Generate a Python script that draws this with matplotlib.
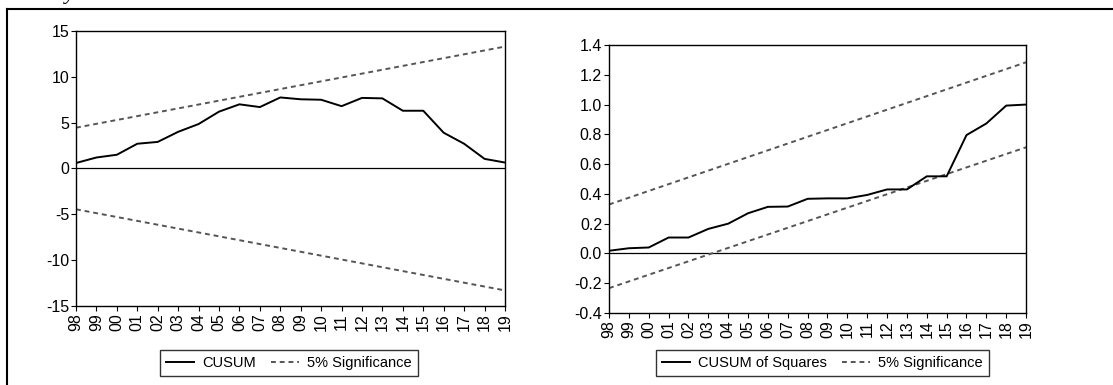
import matplotlib
matplotlib.use('Agg')
import matplotlib.pyplot as plt
from matplotlib.lines import Line2D

plt.rcParams['font.family'] = ['Liberation Sans', 'DejaVu Sans']
plt.rcParams['axes.unicode_minus'] = False

# 年份标签 (1998-2019)
years = ['98', '99', '00', '01', '02', '03', '04', '05', '06', '07', '08',
         '09', '10', '11', '12', '13', '14', '15', '16', '17', '18', '19']

# CUSUM 统计量
cusum = [0.6, 1.2, 1.5, 2.7, 2.9, 4.0, 4.85, 6.2, 7.0, 6.7, 7.75,
         7.55, 7.5, 6.8, 7.7, 7.65, 6.3, 6.3, 3.9, 2.7, 1.05, 0.65]
# CUSUM 5% 显著性边界 (起点, 终点)
cusum_upper = [4.45, 13.3]
cusum_lower = [-4.45, -13.3]

# CUSUM of Squares 统计量
cusumsq = [0.018, 0.035, 0.04, 0.107, 0.107, 0.165, 0.2, 0.27, 0.313, 0.315, 0.367,
           0.37, 0.37, 0.393, 0.43, 0.43, 0.518, 0.518, 0.795, 0.873, 0.993, 1.0]
# CUSUM of Squares 5% 显著性边界 (起点, 终点)
sq_upper = [0.329, 1.284]
sq_lower = [-0.233, 0.713]

fig = plt.figure(figsize=(11.13, 3.85), dpi=100)

x = list(range(len(years)))
ends = [x[0], x[-1]]
dash_color = '#555555'


def style_axes(ax):
    ax.set_xlim(x[0], x[-1])
    ax.set_xticks(x)
    ax.set_xticklabels(years, rotation=90)
    ax.tick_params(axis='both', direction='out', length=3.5, width=0.8, labelsize=11.5, pad=1.5)
    for s in ax.spines.values():
        s.set_linewidth(1.0)
        s.set_color('black')
    ax.axhline(0, color='black', lw=0.9, zorder=1)


# 左图: CUSUM
ax1 = fig.add_axes([0.0683, 0.2052, 0.3854, 0.7143])
ax1.plot(x, cusum, color='black', lw=1.4, label='CUSUM', zorder=3)
ax1.plot(ends, cusum_upper, color=dash_color, lw=1.4, ls=(0, (2.5, 2)), label='5% Significance')
ax1.plot(ends, cusum_lower, color=dash_color, lw=1.4, ls=(0, (2.5, 2)))
ax1.set_ylim(-15, 15)
ax1.set_yticks([-15, -10, -5, 0, 5, 10, 15])
style_axes(ax1)

# 右图: CUSUM of Squares
ax2 = fig.add_axes([0.5472, 0.1870, 0.3747, 0.6961])
ax2.plot(x, cusumsq, color='black', lw=1.4, label='CUSUM of Squares', zorder=3)
ax2.plot(ends, sq_upper, color=dash_color, lw=1.4, ls=(0, (2.5, 2)), label='5% Significance')
ax2.plot(ends, sq_lower, color=dash_color, lw=1.4, ls=(0, (2.5, 2)))
ax2.set_ylim(-0.4, 1.4)
ax2.set_yticks([-0.4, -0.2, 0.0, 0.2, 0.4, 0.6, 0.8, 1.0, 1.2, 1.4])
ax2.set_yticklabels(['-0.4', '-0.2', '0.0', '0.2', '0.4', '0.6', '0.8', '1.0', '1.2', '1.4'])
style_axes(ax2)

# 图例
for ax, cx in [(ax1, 0.2597), (ax2, 0.739)]:
    leg = ax.legend(loc='center', bbox_to_anchor=(cx, 0.058), bbox_transform=fig.transFigure,
                    ncol=2, fontsize=10.5, frameon=True, fancybox=False, handlelength=1.9,
                    columnspacing=1.0, handletextpad=0.6, borderpad=0.4, borderaxespad=0)
    leg.get_frame().set_edgecolor('black')
    leg.get_frame().set_linewidth(1.0)

# 外框
fig.add_artist(Line2D([0.0066, 1.0], [1 - 9 / 385, 1 - 9 / 385], transform=fig.transFigure,
                      color='black', lw=1.5))
fig.add_artist(Line2D([0.0066, 0.0066], [0, 1 - 9 / 385], transform=fig.transFigure,
                      color='black', lw=1.5))

# 顶部被截断的文字
fig.text(0.058, 1.0 + 1 / 385, 'y', fontsize=16, family='Liberation Serif', style='italic',
         va='baseline')
fig.text(0.325, 1.0 + 4 / 385, 'Q', fontsize=16, family='Liberation Serif', style='italic',
         va='baseline')

fig.savefig('out.png', dpi=100)
